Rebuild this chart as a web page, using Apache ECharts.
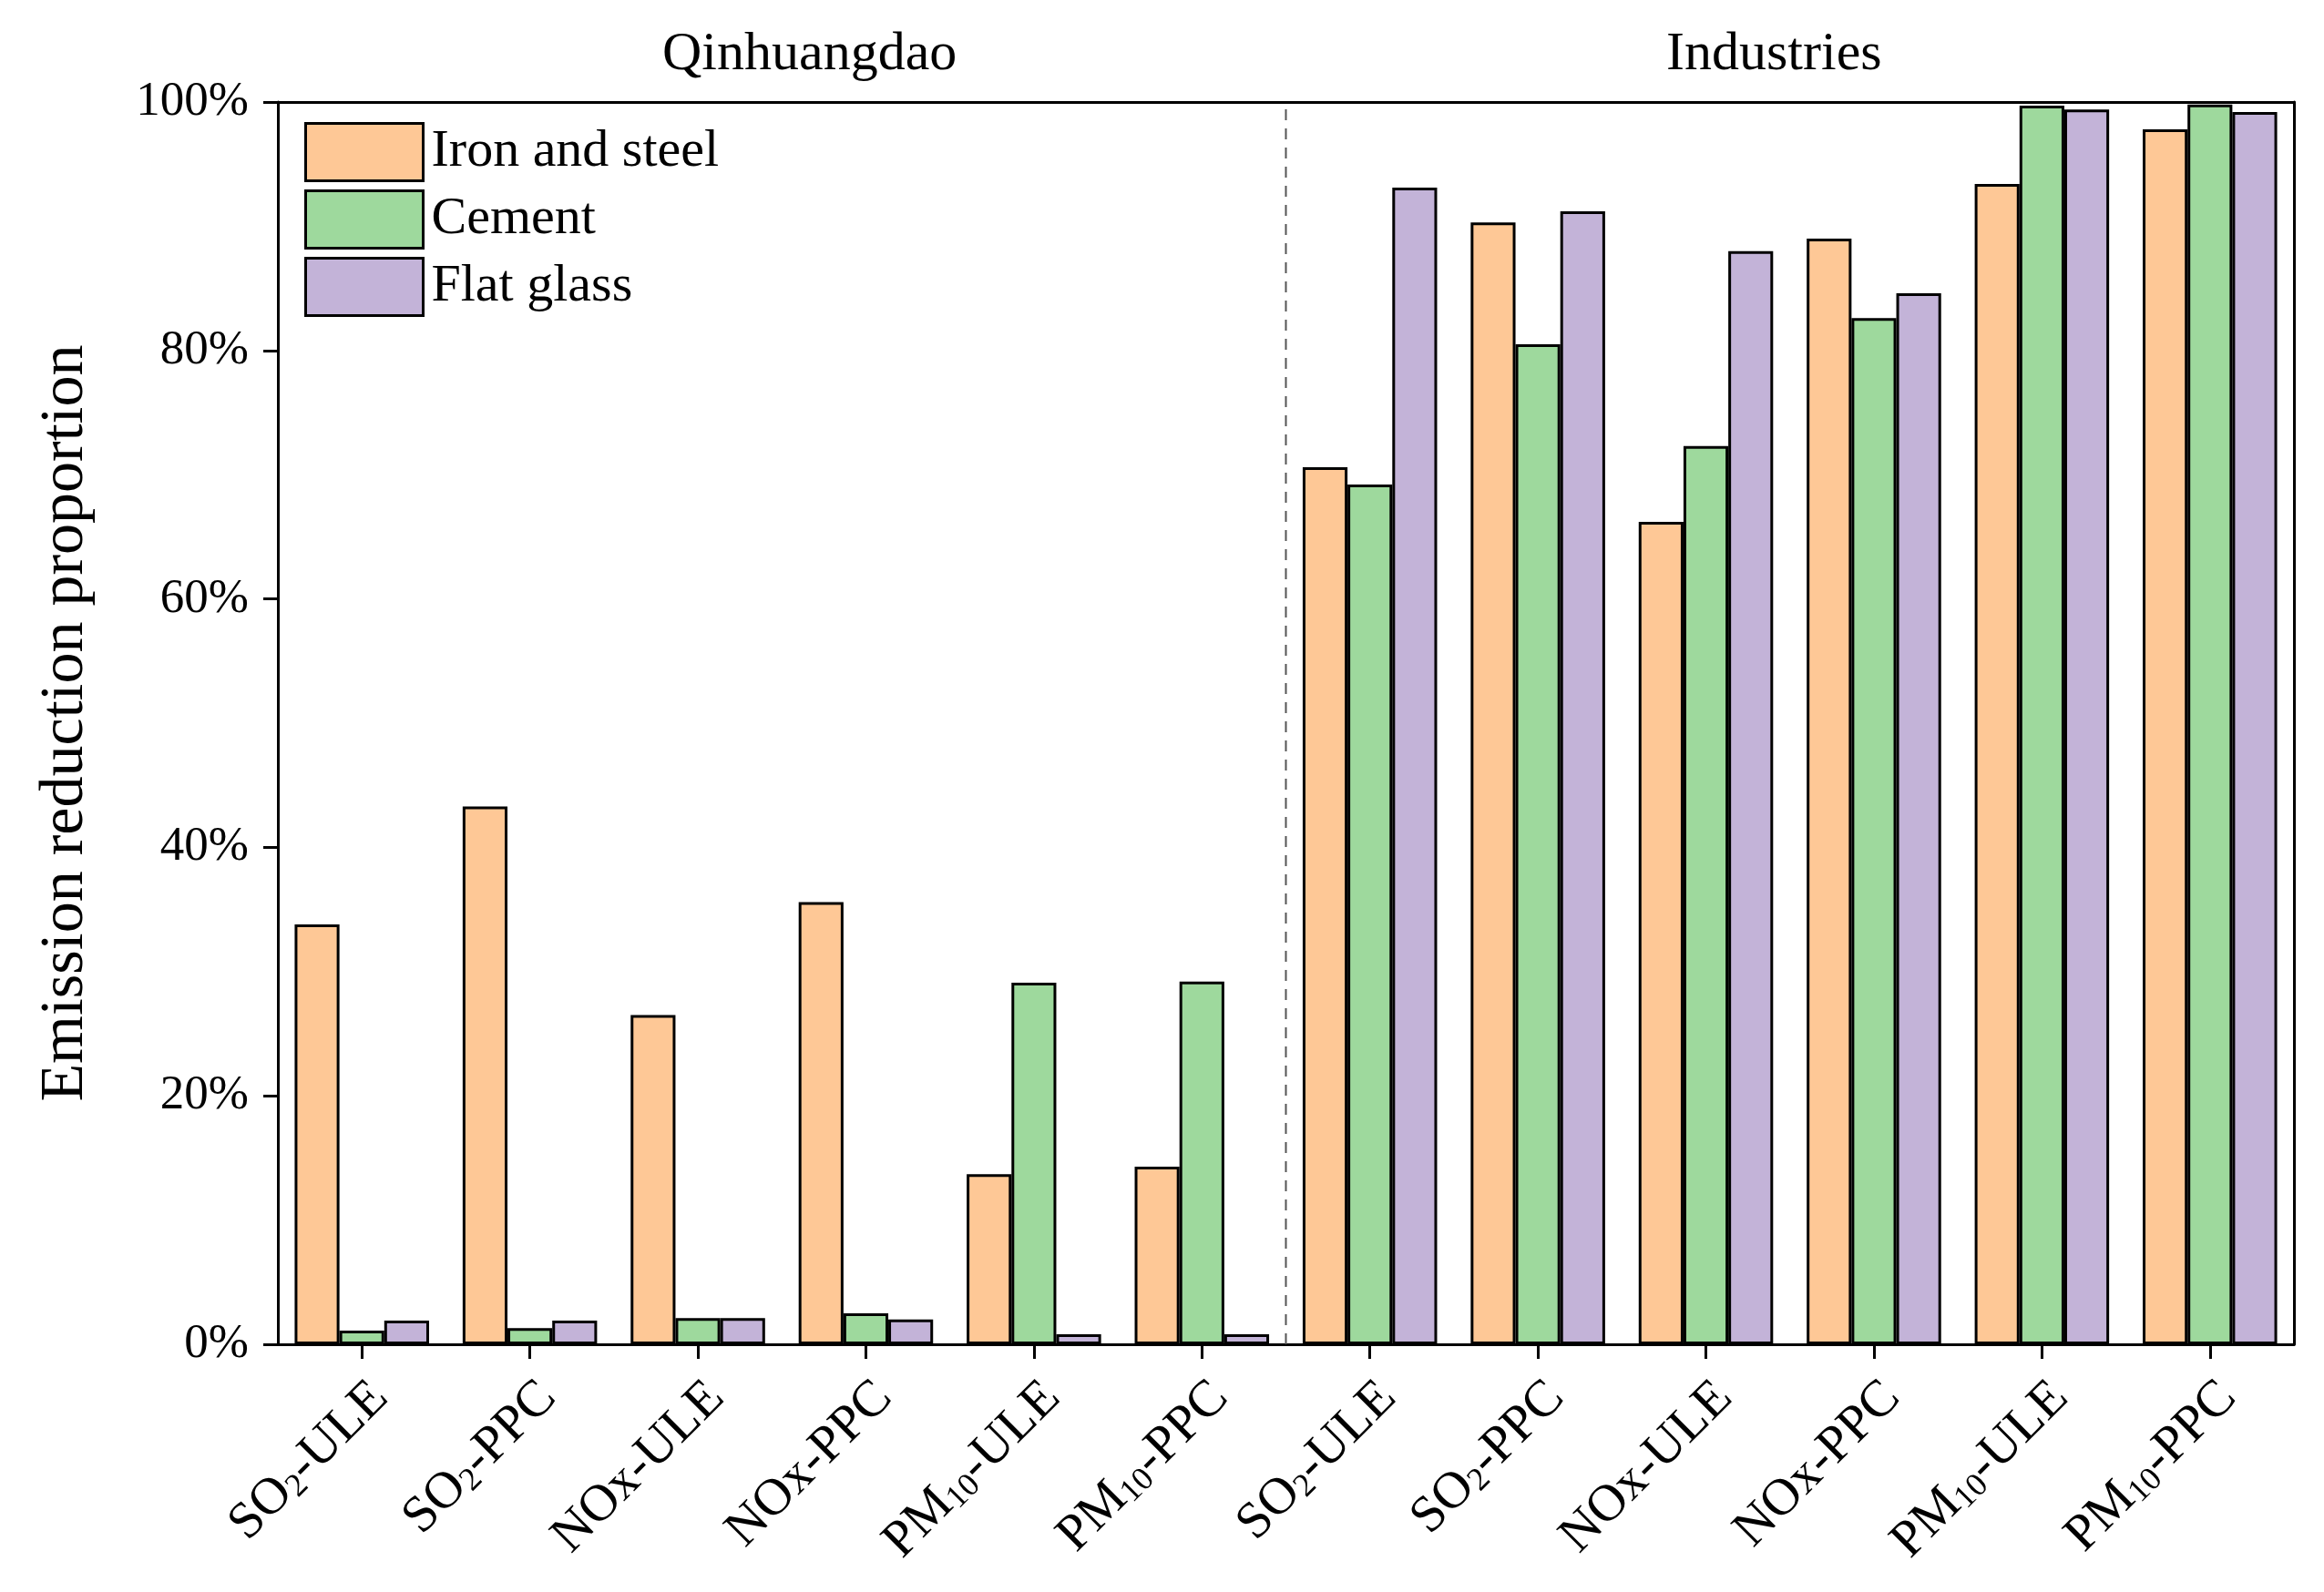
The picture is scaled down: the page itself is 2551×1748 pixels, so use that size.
<!DOCTYPE html>
<html>
<head>
<meta charset="utf-8">
<script src="https://cdn.jsdelivr.net/npm/echarts@6/dist/echarts.min.js"></script>
<style>
html,body{margin:0;padding:0;background:#fff;}
#chart{width:2551px;height:1748px;}
</style>
</head>
<body>
<div id="chart"></div>
<script>
var categories = ['SO2-ULE','SO2-PPC','NOx-ULE','NOx-PPC','PM10-ULE','PM10-PPC',
                  'SO2-ULE ','SO2-PPC ','NOx-ULE ','NOx-PPC ','PM10-ULE ','PM10-PPC '];
var seriesNames = ['Iron and steel','Cement','Flat glass'];
var ironSteel = [33.8, 43.3, 26.5, 35.6, 13.7, 14.3, 70.6, 90.3, 66.2, 89.0, 93.4, 97.8];
var cement    = [1.1, 1.3, 2.1, 2.5, 29.1, 29.2, 69.2, 80.5, 72.3, 82.6, 99.7, 99.8];
var flatGlass = [1.9, 1.9, 2.1, 2.0, 0.8, 0.8, 93.1, 91.2, 88.0, 84.6, 99.4, 99.2];
var yTicks = [0, 20, 40, 60, 80, 100];
var groupTitles = ['Qinhuangdao', 'Industries'];
var dividerAt = 6;

var colors = ['#FEC896', '#9ED99D', '#C3B3D8'];
var FONT = '"Liberation Serif","Times New Roman",serif';

function labelFmt(v) {
  v = v.trim();
  return v.replace(/^SO2/, '{n|SO}{s|2}').replace(/^PM10/, '{n|PM}{s|10}')
          .replace(/^NOx/, '{n|NOx}').replace(/-(.*)$/, '{n|-$1}');
}

var chart = echarts.init(document.getElementById('chart'));
var dataArr = [ironSteel, cement, flatGlass];
var series = seriesNames.map(function (n, i) {
  return {
    name: n, type: 'bar', xAxisIndex: 0, yAxisIndex: 0,
    data: dataArr[i],
    barGap: '0%', barCategoryGap: '20%',
    itemStyle: { color: colors[i], borderColor: '#000', borderWidth: 3 },
    emphasis: { disabled: true }
  };
});
series.push({
  type: 'line', xAxisIndex: 1, yAxisIndex: 0,
  data: [[dividerAt, yTicks[0]], [dividerAt, yTicks[yTicks.length - 1]]],
  symbol: 'none', silent: true,
  lineStyle: { color: '#555', width: 2, type: [12, 9] }
});

chart.setOption({
  backgroundColor: '#fff',
  animation: false,
  textStyle: { fontFamily: FONT },
  grid: { left: 305, right: 33, top: 112, bottom: 272, containLabel: false },
  legend: {
    data: seriesNames, orient: 'vertical', left: 329, top: 129,
    itemWidth: 129, itemHeight: 63, itemGap: 8, icon: 'rect',
    textStyle: { fontSize: 58, fontFamily: FONT, color: '#000', padding: [0, 0, 0, 4] },
    itemStyle: { borderColor: '#000', borderWidth: 3 }
  },
  graphic: [
    { type: 'text', left: 894 - 167, top: 30, style: { text: groupTitles[0], font: '60px ' + FONT, fill: '#000' } },
    { type: 'text', left: 1950 - 121, top: 30, style: { text: groupTitles[1], font: '60px ' + FONT, fill: '#000' } }
  ],
  xAxis: [
    {
      type: 'category', data: categories, position: 'bottom',
      axisLine: { show: true, lineStyle: { color: '#000', width: 3 } },
      axisTick: { show: true, alignWithLabel: true, length: 16, lineStyle: { color: '#000', width: 3 } },
      axisLabel: {
        rotate: 45, margin: 30, interval: 0, color: '#000', verticalAlign: 'top',
        formatter: labelFmt,
        rich: {
          n: { fontSize: 57, fontFamily: FONT, color: '#000' },
          s: { fontSize: 36, fontFamily: FONT, color: '#000', verticalAlign: 'bottom', padding: [14, 0, 0, 0] }
        }
      },
      splitLine: { show: false }
    },
    {
      type: 'value', min: 0, max: categories.length, position: 'top',
      axisLine: { show: true, onZero: false, lineStyle: { color: '#000', width: 3 } },
      axisTick: { show: false }, axisLabel: { show: false }, splitLine: { show: false }
    }
  ],
  yAxis: [
    {
      type: 'value', min: 0, max: 100, interval: 20,
      name: 'Emission reduction proportion', nameLocation: 'middle', nameGap: 199,
      nameTextStyle: { fontSize: 68, fontFamily: FONT, color: '#000' },
      axisLine: { show: true, lineStyle: { color: '#000', width: 3 } },
      axisTick: { show: true, length: 16, lineStyle: { color: '#000', width: 3 } },
      axisLabel: { formatter: '{value}%', fontSize: 53, fontFamily: FONT, color: '#000', margin: 32 },
      splitLine: { show: false }
    },
    {
      type: 'value', min: 0, max: 100, position: 'right',
      axisLine: { show: true, lineStyle: { color: '#000', width: 3 } },
      axisTick: { show: false }, axisLabel: { show: false }, splitLine: { show: false }
    }
  ],
  series: series
});
</script>
</body>
</html>
